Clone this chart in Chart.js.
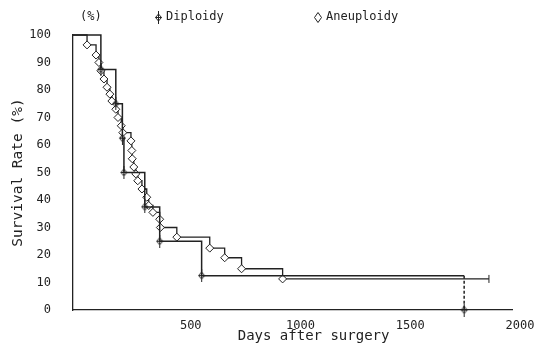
<!DOCTYPE html>
<html>
<head>
<meta charset="utf-8">
<script src="https://cdn.jsdelivr.net/npm/chart.js@4"></script>
<style>
  html, body { margin: 0; padding: 0; background: #fff; }
  #wrap { width: 542px; height: 351px; }
</style>
</head>
<body>
<div id="wrap"><canvas id="kmChart"></canvas></div>
<script>
// survival curves (days, %)
// diploidy holds 12.5 % until day 1782, then drops to 0
const diploidDays = [0, 127, 195, 225, 232, 327, 395, 586, 1782, 1782];
const diploidRate = [100, 87.5, 75, 62.5, 50, 37.5, 25, 12.5, 12.5, 0];

const aneuDays = [0, 64, 105, 118, 127, 141, 155, 168, 177, 195, 205, 220, 227, 264, 268, 270, 277,
                  286, 295, 314, 336, 345, 364, 395, 398, 473, 623, 691, 768, 955, 1895];
const aneuRate = [100, 96.4, 92.7, 90, 87, 84, 81, 78.5, 76, 73, 70, 67, 64.5, 61.5, 58, 55, 52,
                  49.5, 47, 44, 41, 38, 35.5, 33, 30, 26.5, 22.5, 19, 15, 11.3, 11.3];

const xTicks = [500, 1000, 1500, 2000];
const yTicks = [0, 10, 20, 30, 40, 50, 60, 70, 80, 90, 100];

const ink = "#222";
const mono = "'DejaVu Sans Mono', 'Liberation Mono', monospace";

// marker for diploidy: small diamond with a stroke through it
function diploidMark() {
  const c = document.createElement("canvas");
  c.width = 9; c.height = 13;
  const g = c.getContext("2d");
  g.strokeStyle = ink;
  g.lineWidth = 1;
  g.beginPath();
  g.moveTo(4.5, 0); g.lineTo(4.5, 13);
  g.stroke();
  g.beginPath();
  g.moveTo(4.5, 3); g.lineTo(7.5, 6.5); g.lineTo(4.5, 10); g.lineTo(1.5, 6.5); g.closePath();
  g.stroke();
  g.beginPath();
  g.moveTo(1.5, 6.5); g.lineTo(7.5, 6.5);
  g.stroke();
  return c;
}
const dipMark = diploidMark();

const diploidData = diploidDays.map((d, i) => ({ x: d, y: diploidRate[i] }));
const aneuData = aneuDays.map((d, i) => ({ x: d, y: aneuRate[i] }));

const lastA = aneuDays.length - 1;
const lastD = diploidDays.length - 1;

// legend + unit label at the top
const topLabels = {
  id: "topLabels",
  afterDraw(chart) {
    const ctx = chart.ctx;
    ctx.save();
    ctx.font = "12px " + mono;
    ctx.fillStyle = ink;
    ctx.textBaseline = "middle";
    ctx.fillText("(%)", 80, 17);
    ctx.drawImage(dipMark, 154, 11);
    ctx.fillText("Diploidy", 166, 17);
    ctx.strokeStyle = ink;
    ctx.lineWidth = 1;
    ctx.beginPath();
    ctx.moveTo(318, 12.5); ctx.lineTo(321.5, 17.5); ctx.lineTo(318, 22.5); ctx.lineTo(314.5, 17.5); ctx.closePath();
    ctx.stroke();
    ctx.fillText("Aneuploidy", 326, 17);
    ctx.restore();
  }
};

new Chart(document.getElementById("kmChart"), {
  type: "line",
  data: {
    datasets: [
      {
        label: "Diploidy",
        data: diploidData,
        stepped: true,
        borderColor: ink,
        borderWidth: 1.5,
        fill: false,
        clip: false,
        pointStyle: dipMark,
        pointRadius: diploidDays.map((d, i) => (i === 0 || i === lastD - 1) ? 0 : 4),
        segment: {
          borderDash: c => c.p1DataIndex === lastD ? [3, 2] : undefined
        }
      },
      {
        label: "Aneuploidy",
        data: aneuData,
        stepped: true,
        borderColor: ink,
        borderWidth: 1.3,
        fill: false,
        clip: false,
        pointStyle: aneuDays.map((d, i) => i === lastA ? "line" : "rectRot"),
        pointRotation: aneuDays.map((d, i) => i === lastA ? 90 : 0),
        pointRadius: aneuDays.map((d, i) => i === 0 ? 0 : 4),
        pointBackgroundColor: "#fff",
        pointBorderColor: ink,
        pointBorderWidth: 1
      }
    ]
  },
  options: {
    responsive: true,
    maintainAspectRatio: false,
    animation: false,
    layout: { padding: { top: 35, right: 30, left: 0, bottom: 0 } },
    plugins: {
      legend: { display: false },
      tooltip: { enabled: false }
    },
    scales: {
      x: {
        type: "linear",
        min: 0,
        max: 2000,
        afterFit: s => { s.height = 41; },
        afterBuildTicks: s => { s.ticks = [0].concat(xTicks).map(v => ({ value: v })); },
        grid: { display: false, drawTicks: false },
        border: { color: ink, width: 1.3 },
        ticks: {
          padding: 9,
          labelOffset: 8,
          color: ink,
          font: { family: mono, size: 12 },
          callback: v => v === 0 ? "" : String(v)
        },
        title: {
          display: true,
          text: "     Days after surgery",
          color: ink,
          font: { family: mono, size: 14 },
          padding: { top: 0, bottom: 6 }
        }
      },
      y: {
        min: 0,
        max: 100,
        afterFit: s => { s.width = 73; },
        afterBuildTicks: s => { s.ticks = yTicks.map(v => ({ value: v })); },
        grid: { display: false, drawTicks: false },
        border: { color: ink, width: 1.3 },
        ticks: {
          padding: 22,
          color: ink,
          font: { family: mono, size: 12 }
        },
        title: {
          display: true,
          text: "Survival Rate (%)",
          color: ink,
          font: { family: mono, size: 14.5 },
          padding: { top: 10, bottom: 0 }
        }
      }
    }
  },
  plugins: [topLabels]
});
</script>
</body>
</html>
